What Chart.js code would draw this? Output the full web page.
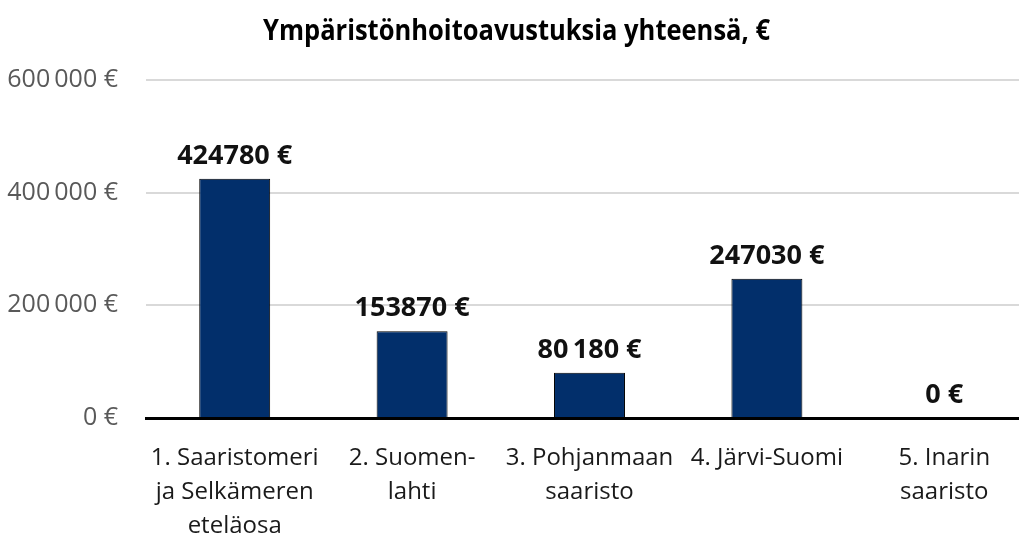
<!DOCTYPE html>
<html lang="fi">
<head>
<meta charset="utf-8">
<title>Ympäristönhoitoavustuksia yhteensä</title>
<script src="https://cdn.jsdelivr.net/npm/chart.js@4/dist/chart.umd.min.js"></script>
<style>
  html, body { margin: 0; padding: 0; background: #ffffff; }
  #frame { width: 1019px; height: 538px; overflow: hidden; position: relative; }
  canvas { display: block; }
</style>
</head>
<body>
<div id="frame"><canvas id="chart" width="1033" height="538"></canvas></div>
<script>
// Categories (each entry is one label, split into its lines)
const regions = [
  ["1. Saaristomeri", "ja Selkämeren", "eteläosa"],
  ["2. Suomen-", "lahti"],
  ["3. Pohjanmaan", "saaristo"],
  ["4. Järvi-Suomi"],
  ["5. Inarin", "saaristo"]
];

// Environmental management grants per region, €
const grantsEur = [424780, 153870, 80180, 247030, 0];

// Value axis
const axisMin = 0;
const axisMax = 600000;
const axisStep = 200000;

const chartTitle = "Ympäristönhoitoavustuksia yhteensä, €";

const fmtGrouped = v => v.toLocaleString("fi-FI").replace(/\s/g, "\u2009");

// Six-digit sums are printed ungrouped, smaller sums with a thin space
const fmtLabel = v => (v >= 100000 ? String(v) : fmtGrouped(v)) + " €";

// Title in a tall, slightly condensed bold face, centred over the canvas
const condensedTitle = {
  id: "condensedTitle",
  afterDraw(chart) {
    const ctx = chart.ctx;
    ctx.save();
    ctx.font = "bold 29px 'Open Sans', sans-serif";
    ctx.fillStyle = "#000000";
    ctx.textAlign = "center";
    ctx.textBaseline = "alphabetic";
    ctx.translate(chart.width / 2, 40);
    ctx.scale(0.88, 1);
    ctx.fillText(chartTitle, 0, 0);
    ctx.restore();
  }
};

const valueLabels = {
  id: "valueLabels",
  afterDatasetsDraw(chart) {
    const ctx = chart.ctx;
    const meta = chart.getDatasetMeta(0);
    ctx.save();
    ctx.font = "bold 27px 'Open Sans', sans-serif";
    ctx.fillStyle = "#111111";
    ctx.textAlign = "center";
    ctx.textBaseline = "alphabetic";
    meta.data.forEach((bar, i) => {
      const v = chart.data.datasets[0].data[i];
      ctx.fillText(fmtLabel(v), bar.x, bar.y - 15);
    });
    ctx.restore();
  }
};

new Chart(document.getElementById("chart"), {
  type: "bar",
  data: {
    labels: regions,
    datasets: [{
      data: grantsEur,
      backgroundColor: "#022f6b",
      borderColor: "#000000",
      borderWidth: 1,
      categoryPercentage: 1.0,
      barPercentage: 0.4
    }]
  },
  options: {
    responsive: false,
    animation: false,
    devicePixelRatio: 1,
    layout: { padding: { left: 0, right: 0, top: 80, bottom: 0 } },
    plugins: {
      legend: { display: false },
      tooltip: { enabled: false },
      title: { display: false }
    },
    scales: {
      x: {
        offset: true,
        grid: { display: false, drawTicks: false },
        border: { display: true, color: "#000000", width: 3 },
        ticks: {
          color: "#1a1a1a",
          font: { family: "'Open Sans', sans-serif", size: 24, lineHeight: 1.42 },
          padding: 23,
          maxRotation: 0,
          autoSkip: false
        },
        afterFit(scale) { scale.height = 120; }
      },
      y: {
        min: axisMin,
        max: axisMax,
        grid: { color: "#d9d9d9", lineWidth: 2, drawTicks: false },
        border: { display: false },
        ticks: {
          stepSize: axisStep,
          color: "#595959",
          font: { family: "'Open Sans', sans-serif", size: 25 },
          padding: 28,
          callback: v => fmtGrouped(v) + " €"
        },
        afterFit(scale) { scale.width = 146; }
      }
    }
  },
  plugins: [valueLabels, condensedTitle]
});
</script>
</body>
</html>
